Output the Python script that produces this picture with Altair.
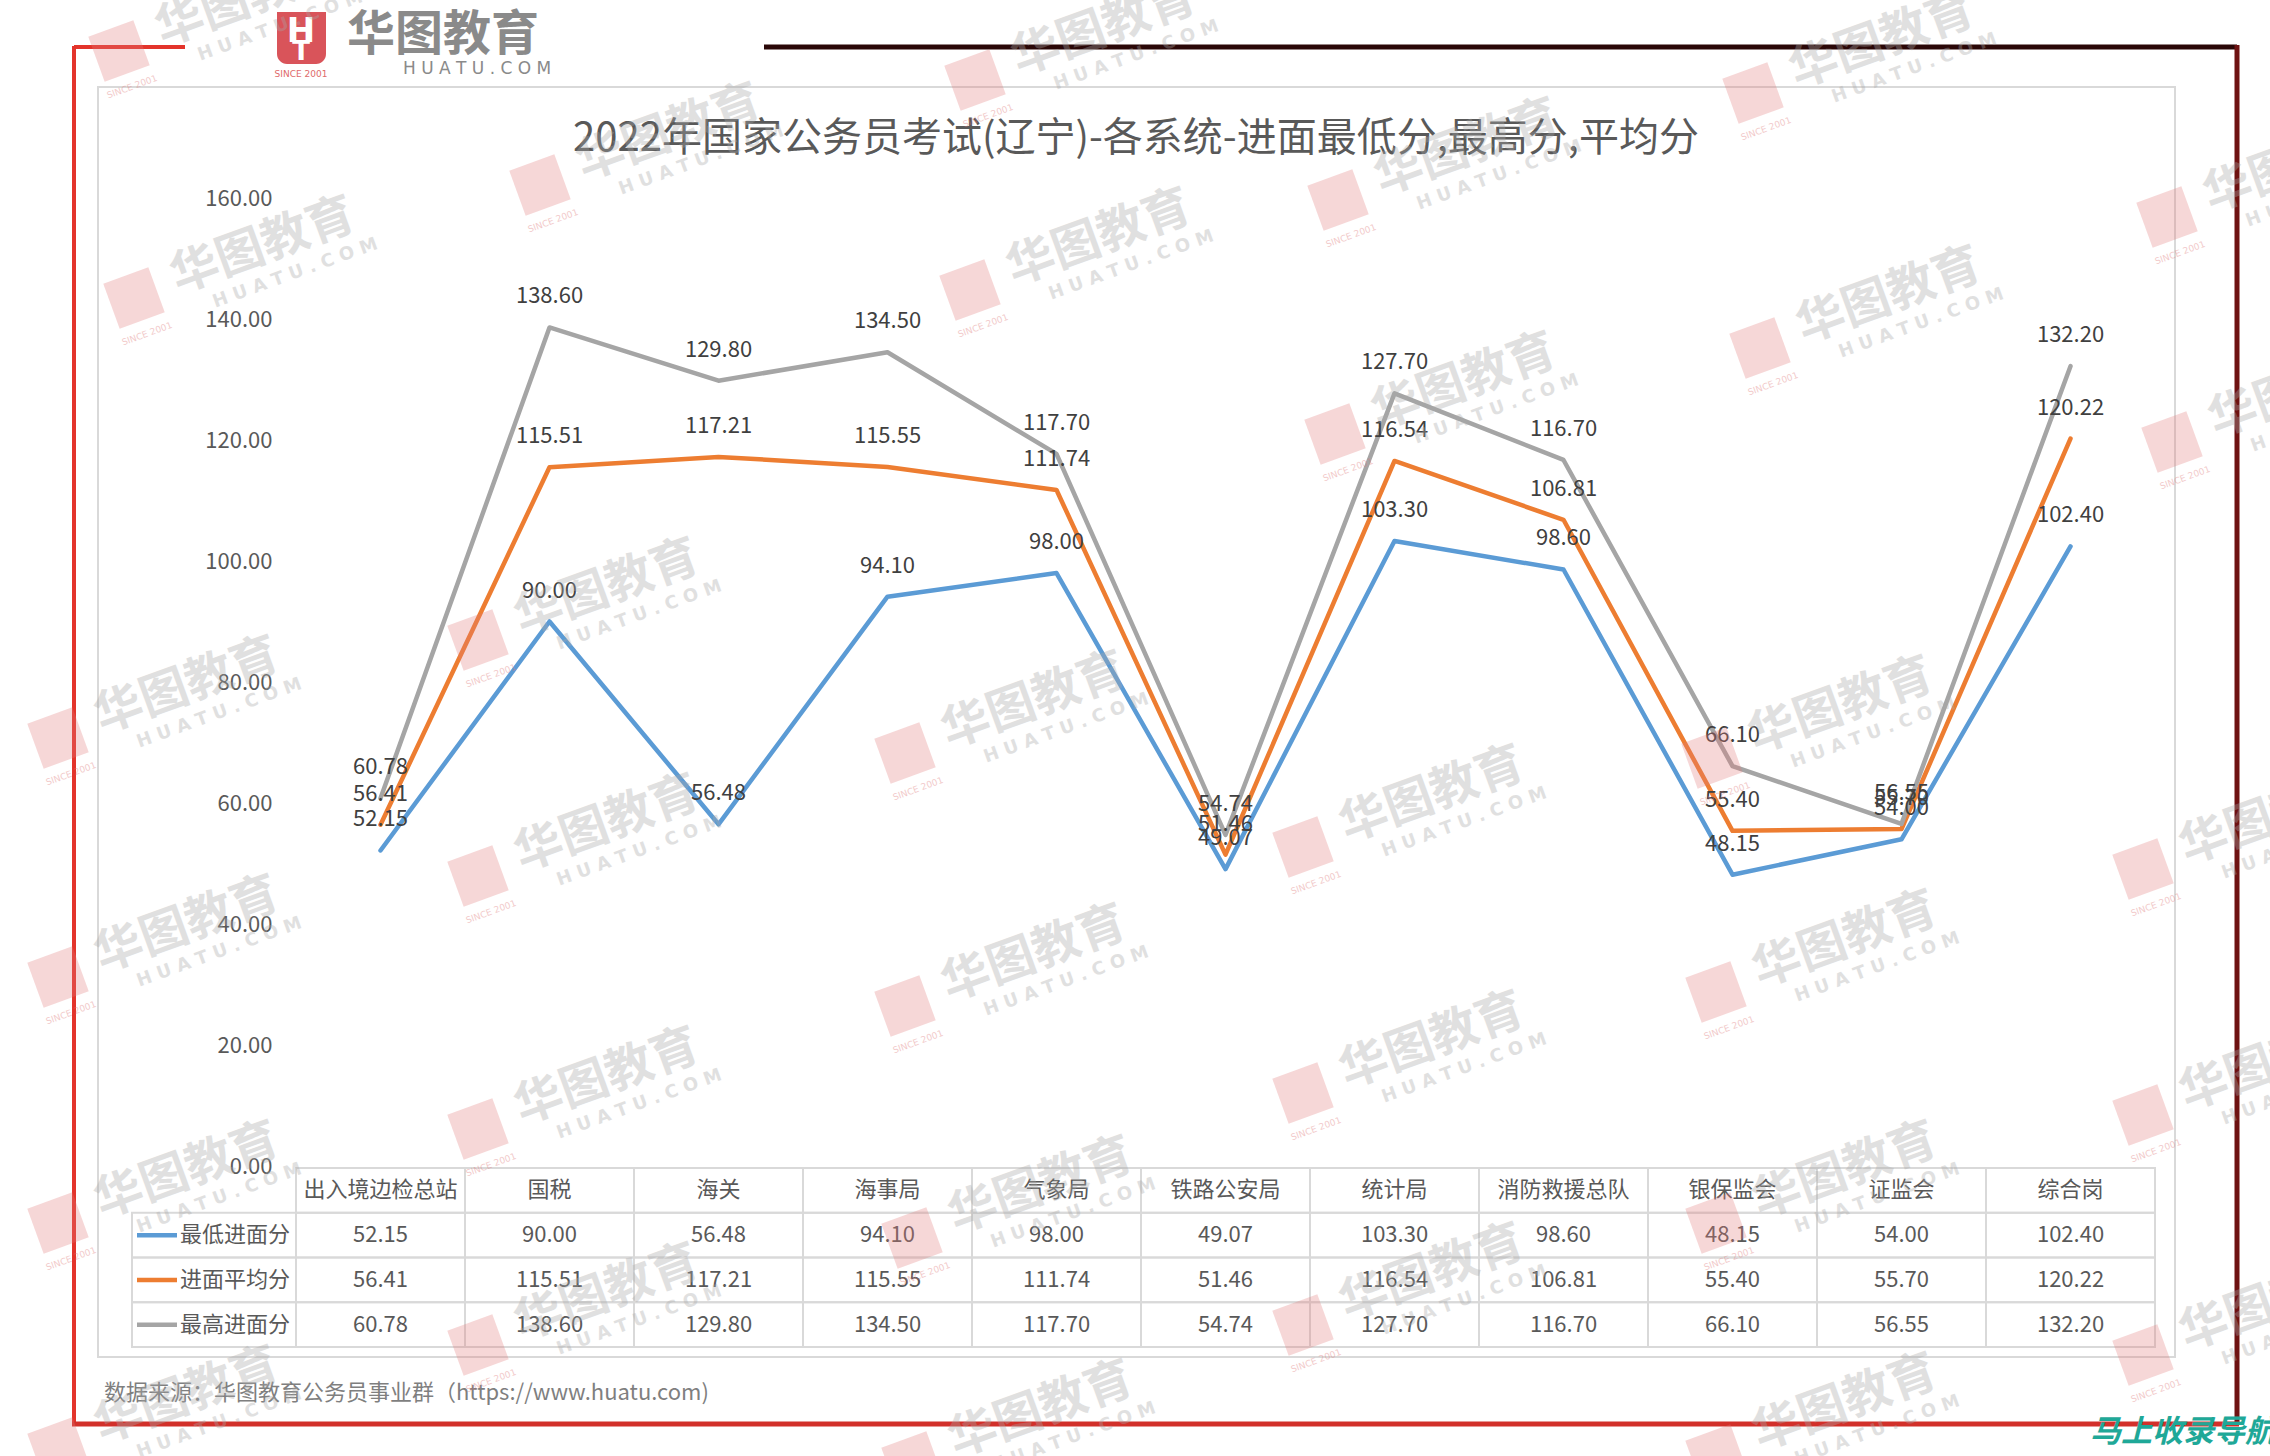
import altair as alt
import pandas as pd

FONT = "Noto Sans CJK SC"

title_text = "2022年国家公务员考试(辽宁)-各系统-进面最低分,最高分,平均分"
footer_text = "数据来源：华图教育公务员事业群（https://www.huatu.com)"

categories = ["出入境边检总站", "国税", "海关", "海事局", "气象局", "铁路公安局",
              "统计局", "消防救援总队", "银保监会", "证监会", "综合岗"]
series_names = ["最低进面分", "进面平均分", "最高进面分"]
low = [52.15, 90.00, 56.48, 94.10, 98.00, 49.07, 103.30, 98.60, 48.15, 54.00, 102.40]
avg = [56.41, 115.51, 117.21, 115.55, 111.74, 51.46, 116.54, 106.81, 55.40, 55.70, 120.22]
high = [60.78, 138.60, 129.80, 134.50, 117.70, 54.74, 127.70, 116.70, 66.10, 56.55, 132.20]
y_ticks = [0, 20, 40, 60, 80, 100, 120, 140, 160]
colors = ["#5b9bd5", "#ed7d31", "#a5a5a5"]

# decorative watermark anchors (page pixels)
wm_x = [119, 975, 1753, 540, 1338, 2167, 134, 970, 1760, 1335, 2172, 478, 58, 905,
        1712, 1303, 478, 58, 905, 1716, 2143, 1303, 478, 2143, 58, 912, 1716, 1303,
        478, 2143, 58, 912, 1716]
wm_y = [51, 80, 93, 185, 200, 217, 298, 290, 348, 434, 442, 640, 738, 753,
        758, 847, 876, 977, 1006, 992, 869, 1093, 1129, 1115, 1223, 1238, 1223, 1325,
        1345, 1355, 1448, 1462, 1455]

rows = []
for s, vals in zip(series_names, [low, avg, high]):
    for c, v in zip(categories, vals):
        rows.append({"cat": c, "row": s, "value": v})
df = pd.DataFrame(rows)
hdr_df = pd.DataFrame({"cat": categories, "row": ["header"] * len(categories)})
row_domain = ["header"] + series_names
cells_df = pd.DataFrame([{"cat": c, "row": r} for r in row_domain for c in categories])
legend_df = pd.DataFrame({"row": series_names})
one = pd.DataFrame({"k": [0]})

# layout (pixels)
PX, PY = 296, 198
W, H = 1859, 1149
LINE_H = 968

wm_df = pd.DataFrame({"x": [v - PX for v in wm_x], "y": [v - PY for v in wm_y]})


def vx(v):
    return alt.value(v - PX)


def vy(v):
    return alt.value(v - PY)


x_pt = alt.X("cat:N", sort=categories,
             scale=alt.Scale(type="point", domain=categories, padding=0.5), axis=None)
y_scale = alt.Scale(domain=[0, 160], range=[LINE_H, 0], nice=False)
y_axis = alt.Axis(values=y_ticks, format=".2f", ticks=False, domain=False, grid=False,
                  labelPadding=24, labelFontSize=22, labelColor="#595959", labelFont=FONT,
                  title=None)
y_enc = alt.Y("value:Q", scale=y_scale, axis=y_axis)
color = alt.Color("row:N", scale=alt.Scale(domain=series_names, range=colors), legend=None)

line_layers = []
for s in series_names:
    line_layers.append(
        alt.Chart(df).transform_filter(alt.datum.row == s)
        .mark_line(strokeWidth=4.5, strokeJoin="round", strokeCap="round")
        .encode(x=x_pt, y=y_enc, color=color)
    )
labels = alt.Chart(df).mark_text(dy=-31, fontSize=22, color="#404040", font=FONT).encode(
    x=x_pt, y=y_enc, text=alt.Text("value:Q", format=".2f"))
lines_layer = alt.layer(*line_layers, labels)

# table
bx = alt.Scale(type="band", domain=categories, paddingInner=0, paddingOuter=0)
by = alt.Scale(type="band", domain=row_domain, range=[LINE_H + 2, H], paddingInner=0, paddingOuter=0)
GRID = "#d9d9d9"

cells = alt.Chart(cells_df).mark_rect(fillOpacity=0, stroke=GRID, strokeWidth=2).encode(
    x=alt.X("cat:N", scale=bx, axis=None),
    y=alt.Y("row:N", scale=by, axis=None))
leg_cells = alt.Chart(legend_df).mark_rect(fillOpacity=0, stroke=GRID, strokeWidth=2).encode(
    x=vx(132), x2=vx(296),
    y=alt.Y("row:N", scale=by, axis=None))
leg_lines = alt.Chart(legend_df).mark_rule(strokeWidth=4.5).encode(
    x=vx(137), x2=vx(177),
    y=alt.Y("row:N", scale=by, axis=None, bandPosition=0.5),
    color=color)
leg_text = alt.Chart(legend_df).mark_text(align="left", fontSize=22, color="#595959", font=FONT).encode(
    x=vx(180),
    y=alt.Y("row:N", scale=by, axis=None, bandPosition=0.5),
    text="row:N")
hdr_text = alt.Chart(hdr_df).mark_text(fontSize=22, color="#595959", font=FONT).encode(
    x=alt.X("cat:N", scale=bx, axis=None, bandPosition=0.5),
    y=alt.Y("row:N", scale=by, axis=None, bandPosition=0.5),
    text="cat:N")
val_text = alt.Chart(df).mark_text(fontSize=22, color="#595959", font=FONT).encode(
    x=alt.X("cat:N", scale=bx, axis=None, bandPosition=0.5),
    y=alt.Y("row:N", scale=by, axis=None, bandPosition=0.5),
    text=alt.Text("value:Q", format=".2f"))
table_layer = alt.layer(cells, leg_cells, leg_lines, leg_text, hdr_text, val_text)


# decorations
def hrule(x1, x2, y, c, w):
    return alt.Chart(one).mark_rule(color=c, strokeWidth=w).encode(x=vx(x1), x2=vx(x2), y=vy(y))


def vrule(x, y1, y2, c, w):
    return alt.Chart(one).mark_rule(color=c, strokeWidth=w).encode(x=vx(x), y=vy(y1), y2=vy(y2))


frame = [
    vrule(74, 46, 1425, "#e3342b", 4),
    hrule(74, 185, 47, "#e3342b", 4),
    hrule(764, 2237, 47, "#2a0707", 5),
    vrule(2237, 45, 1425, "#6e1212", 5),
    hrule(72, 2239, 1424, "#d2302a", 5),
]
inner_box = alt.Chart(one).mark_rect(fillOpacity=0, stroke=GRID, strokeWidth=2).encode(
    x=vx(98), x2=vx(2175), y=vy(87), y2=vy(1357))
title = alt.Chart(one).mark_text(fontSize=40, color="#595959", font=FONT).encode(
    x=vx(1136), y=vy(139), text=alt.value(title_text))
footer = alt.Chart(one).mark_text(align="left", fontSize=22, color="#7f7f7f", font=FONT).encode(
    x=vx(104), y=vy(1393), text=alt.value(footer_text))

logo_shield = alt.Chart(one).mark_rect(color="#d9545a", cornerRadiusBottomLeft=10,
                                       cornerRadiusBottomRight=10).encode(
    x=vx(277), x2=vx(326), y=vy(12), y2=vy(64))
logo_h = alt.Chart(one).mark_text(fontSize=34, fontWeight="bold", color="white", font="DejaVu Sans").encode(
    x=vx(301), y=vy(32), text=alt.value("H"))
logo_t = alt.Chart(one).mark_text(fontSize=26, fontWeight="bold", color="white", font="DejaVu Sans").encode(
    x=vx(301), y=vy(52), text=alt.value("T"))
logo_since = alt.Chart(one).mark_text(fontSize=9, color="#e06a6a", font="DejaVu Sans").encode(
    x=vx(301), y=vy(74), text=alt.value("SINCE 2001"))
logo_cn = alt.Chart(one).mark_text(align="left", fontSize=48, fontWeight="bold", color="#8a8a8a", font=FONT).encode(
    x=vx(347), y=vy(36), text=alt.value("华图教育"))
logo_en = alt.Chart(one).mark_text(align="left", fontSize=17, color="#8a8a8a", font="DejaVu Sans").encode(
    x=vx(403), y=vy(69), text=alt.value("H U A T U . C O M"))
corner = alt.Chart(one).mark_text(align="left", fontSize=31, fontWeight="bold", fontStyle="italic",
                                  color="#1fa898", font=FONT).encode(
    x=vx(2090), y=vy(1433), text=alt.value("马上收录导航"))

# watermarks (decorative overlay)
wx = alt.X("x:Q", scale=None, axis=None)
wyy = alt.Y("y:Q", scale=None, axis=None)
wm_shield = alt.Chart(wm_df).mark_point(shape="square", size=2300, angle=340, filled=True,
                                        color="#e07a7a", opacity=0.3).encode(x=wx, y=wyy)
wm_cn = alt.Chart(wm_df).mark_text(fontSize=48, fontWeight="bold", angle=340, dx=139, dy=-4,
                                   color="#a8a8a8", opacity=0.35, font=FONT).encode(
    x=wx, y=wyy, text=alt.value("华图教育"))
wm_en = alt.Chart(wm_df).mark_text(fontSize=18, fontWeight="bold", angle=340, dx=160, dy=32,
                                   color="#a8a8a8", opacity=0.35, font="DejaVu Sans").encode(
    x=wx, y=wyy, text=alt.value("H U A T U . C O M"))
wm_since = alt.Chart(wm_df).mark_text(fontSize=9, angle=340, dy=38,
                                      color="#e07a7a", opacity=0.4, font="DejaVu Sans").encode(
    x=wx, y=wyy, text=alt.value("SINCE 2001"))

chart = alt.layer(
    *frame, inner_box, title, footer,
    logo_shield, logo_h, logo_t, logo_since, logo_cn, logo_en, corner,
    table_layer, lines_layer,
    wm_shield, wm_cn, wm_en, wm_since,
).resolve_scale(x="independent", y="independent", color="shared").properties(
    width=W, height=H,
    padding={"left": PX, "top": PY, "right": 2270 - PX - W, "bottom": 1456 - PY - H},
    autosize=alt.AutoSizeParams(type="none"),
    background="white",
).configure_view(strokeWidth=0)

chart.save("out.html", embed_options={"renderer": "svg", "actions": False})
